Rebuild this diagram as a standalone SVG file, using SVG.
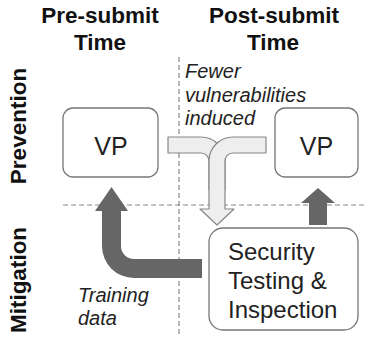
<svg xmlns="http://www.w3.org/2000/svg" width="365" height="337" viewBox="0 0 365 337">
<style>
.hdr{font-family:"Liberation Sans",Arial,sans-serif;font-weight:bold;font-size:22.5px;fill:#111;text-anchor:middle}
.lbl{font-family:"Liberation Sans",Arial,sans-serif;font-style:italic;font-size:20px;fill:#222}
.box{fill:#fff;stroke:#777;stroke-width:1.3}
.nt{font-family:"Liberation Sans",Arial,sans-serif;fill:#222}
.dash{stroke:#888;stroke-width:1.2;stroke-dasharray:5 3;fill:none}
.dark{fill:#666;stroke:none}
.light{fill:#eeeeee;stroke:#888;stroke-width:1.2;stroke-linejoin:round}
</style>
<rect width="365" height="337" fill="#fff"/>
<g id="headers">
<text class="hdr" x="100" y="23">Pre-submit</text>
<text class="hdr" x="100" y="50">Time</text>
<text class="hdr" x="274" y="23">Post-submit</text>
<text class="hdr" x="273" y="50">Time</text>
<text class="hdr" transform="translate(26,126) rotate(-90)">Prevention</text>
<text class="hdr" transform="translate(26,280) rotate(-90)">Mitigation</text>
</g>
<g id="grid">
<line class="dash" x1="179" y1="57" x2="179" y2="337"/>
<line class="dash" x1="63" y1="205" x2="365" y2="205"/>
</g>
<g id="vp-pre">
<rect class="box" x="63" y="108" width="95" height="69" rx="10"/>
<text class="nt" x="111" y="155" font-size="25" text-anchor="middle">VP</text>
</g>
<g id="vp-post">
<rect class="box" x="275" y="108" width="83" height="69" rx="10"/>
<text class="nt" x="316.5" y="155" font-size="25" text-anchor="middle">VP</text>
</g>
<g id="security">
<rect class="box" x="209" y="228" width="149" height="102" rx="14"/>
<text class="nt" font-size="24"><tspan x="228" y="260">Security</tspan><tspan x="228" y="289">Testing &amp;</tspan><tspan x="228" y="318">Inspection</tspan></text>
</g>
<g id="connectors">
<path class="dark" d="M202 259 L134 259 A13 13 0 0 1 121 246 L121 211 L128 211 L111.5 187 L95 211 L102 211 L102 246 A32 32 0 0 0 134 278 L202 278 Z"/>
<path class="dark" d="M309 225 L309 203 L301 203 L318 188 L335 203 L327 203 L327 225 Z"/>
<path class="light" d="M168 137 L201 137 A24 24 0 0 1 225 161 L225 209 L234 209 L217 225 L200 209 L209 209 L209 161 A8 8 0 0 0 201 153 L168 153 Z"/>
<path d="M266 137 L233 137 A24 24 0 0 0 209 161 L209 190 L225 190 L225 161 A8 8 0 0 1 233 153 L266 153 Z" fill="#eeeeee"/>
<path d="M209 190 L209 161 A24 24 0 0 1 233 137 L266 137 L266 153 L233 153 A8 8 0 0 0 225 161 L225 190" fill="none" stroke="#888" stroke-width="1.2" stroke-linejoin="round"/>
</g>
<g id="labels">
<text class="lbl"><tspan x="185" y="78">Fewer</tspan><tspan x="185" y="101.5">vulnerabilities</tspan><tspan x="185" y="125">induced</tspan></text>
<text class="lbl"><tspan x="78" y="302">Training</tspan><tspan x="78" y="325">data</tspan></text>
</g>
</svg>
